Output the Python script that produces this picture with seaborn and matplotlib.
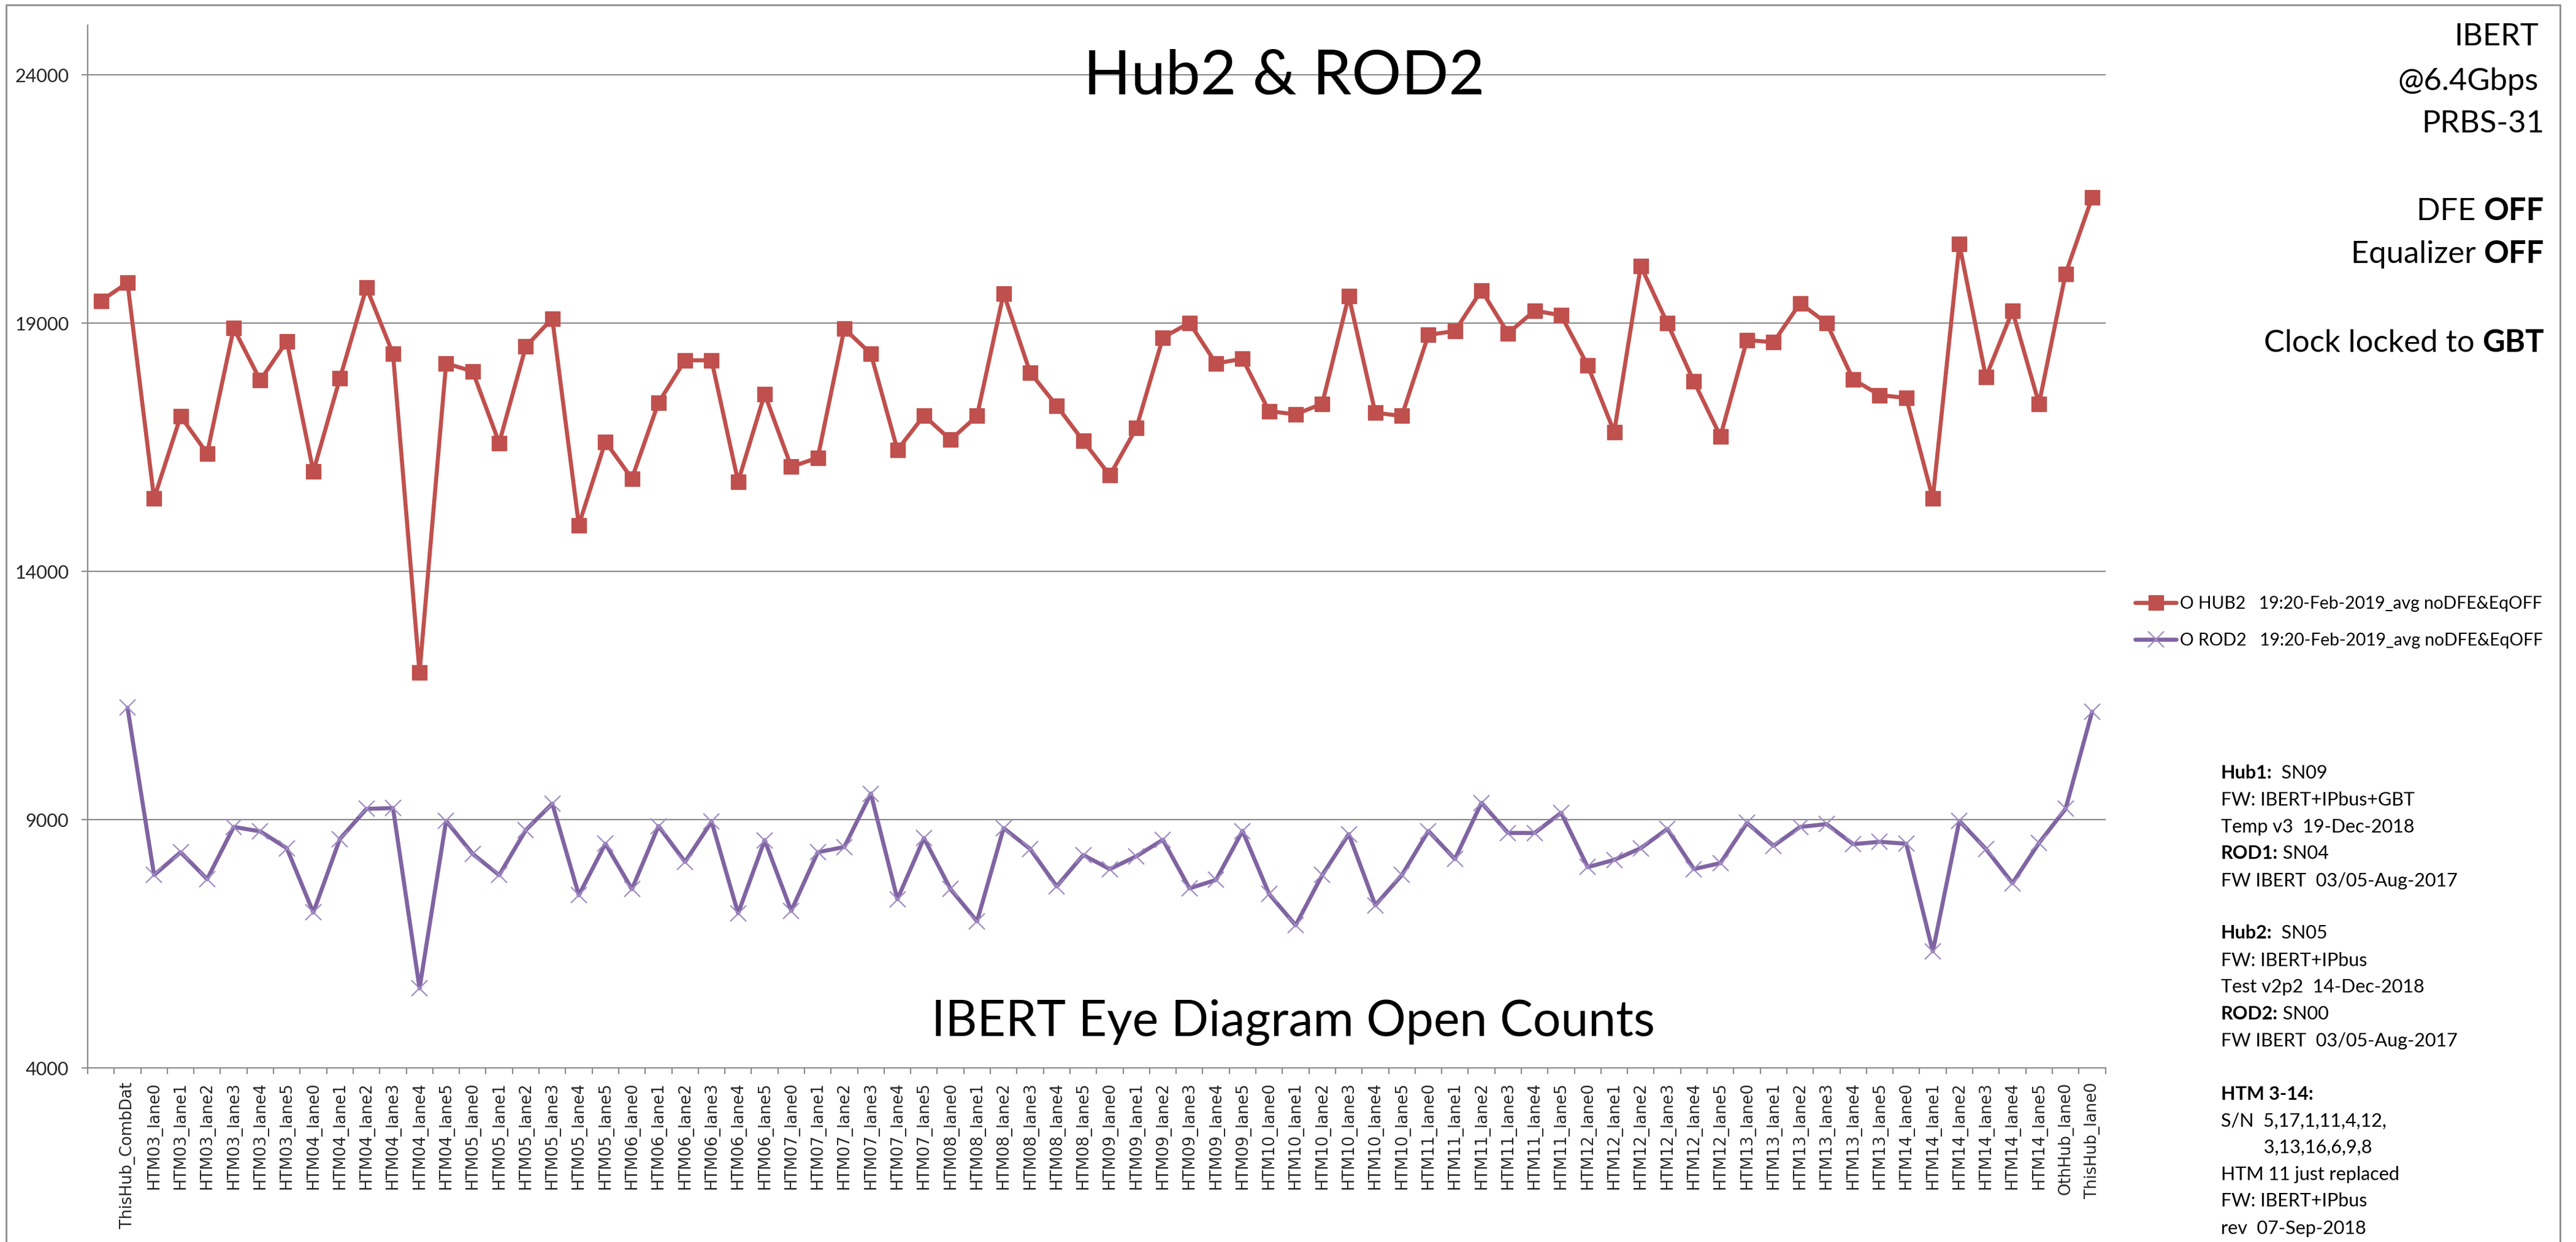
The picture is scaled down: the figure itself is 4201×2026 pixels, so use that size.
import numpy as np
import pandas as pd
import matplotlib
matplotlib.use("Agg")
import matplotlib.pyplot as plt
from matplotlib.patches import Rectangle
import seaborn as sns

# ---------------- data ----------------
modules = ["HTM03", "HTM04", "HTM05", "HTM06", "HTM07", "HTM08",
           "HTM09", "HTM10", "HTM11", "HTM12", "HTM13", "HTM14"]
lanes = ["lane0", "lane1", "lane2", "lane3", "lane4", "lane5"]
categories = ([""] + ["ThisHub_CombDat"]
              + [f"{m}_{l}" for m in modules for l in lanes]
              + ["OthHub_lane0", "ThisHub_lane0"])

hub2 = [19453, 19815, 15470, 17127, 16378, 18900, 17851, 18639, 16014, 17890,
        19720, 18387, 11964, 18191, 18033, 16590, 18529, 19097, 14935, 16614,
        15872, 17402, 18254, 18254, 15810, 17575, 16109, 16291, 18892, 18387,
        16448, 17141, 16653, 17134, 19601, 18009, 17339, 16630, 15936, 16889,
        18711, 19010, 18191, 18285, 17229, 17166, 17379, 19547, 17197, 17134,
        18766, 18845, 19664, 18798, 19255, 19160, 18151, 16811, 20154, 19003,
        17829, 16725, 18664, 18617, 19405, 19003, 17868, 17553, 17497, 15472,
        20595, 17915, 19248, 17379, 19997, 21533]

rod2 = [np.nan,
        11257, 7884, 8345, 7803, 8854, 8765, 8426, 7131, 8612, 9218,
        9235, 5603, 8976, 8312, 7884, 8790, 9324, 7479, 8515, 7601,
        8871, 8151, 8960, 7115, 8587, 7164, 8345, 8450, 9526, 7398,
        8628, 7601, 6953, 8830, 8410, 7657, 8288, 8005, 8264, 8596,
        7617, 7787, 8773, 7504, 6873, 7884, 8709, 7277, 7884, 8773,
        8207, 9340, 8733, 8733, 9138, 8045, 8191, 8426, 8814, 8005,
        8126, 8935, 8474, 8854, 8911, 8507, 8555, 8515, 6347, 8976,
        8410, 7722, 8531, 9218, 11176]

hub2_label = "O HUB2   19:20-Feb-2019_avg noDFE&EqOFF"
rod2_label = "O ROD2   19:20-Feb-2019_avg noDFE&EqOFF"
y_ticks = [4000, 9000, 14000, 19000, 24000]

# ---------------- style ----------------
sns.set_theme(style="white")
plt.rcParams["font.family"] = ["Lato", "DejaVu Sans"]
plt.rcParams["text.color"] = "black"

W, H = 4201, 2026
fig = plt.figure(figsize=(W / 100, H / 100), dpi=100)
fig.patch.set_facecolor("white")

left, right = 143 / W, 3433.5 / W
bottom, top = 1 - 1742 / H, 1 - 41.5 / H
ax = fig.add_axes([left, bottom, right - left, top - bottom])
ax.set_facecolor("white")

GRID = "#898989"
RED = "#C0504D"
PURPLE = "#8064A2"

pos = np.arange(len(categories))
df = pd.DataFrame({"pos": pos, "hub2": hub2, "rod2": rod2})

ax.set_ylim(4000, 25000)
ax.set_xlim(-0.5, len(categories) - 0.5)
for yv in y_ticks[1:]:
    ax.axhline(yv, color=GRID, lw=1.5, zorder=0)

sns.lineplot(data=df, x="pos", y="hub2", ax=ax, color=RED, lw=4.8,
             marker="s", markersize=17, markeredgecolor=RED, markerfacecolor=RED,
             markeredgewidth=1, label=hub2_label, errorbar=None, zorder=3)
sns.lineplot(data=df.dropna(), x="pos", y="rod2", ax=ax, color=PURPLE, lw=4.8,
             marker="x", markersize=19, markeredgecolor="#9F8CC2",
             markeredgewidth=1.6, label=rod2_label, errorbar=None, zorder=3)

# axes styling
for s in ["top", "right"]:
    ax.spines[s].set_visible(False)
for s in ["left", "bottom"]:
    ax.spines[s].set_color(GRID)
    ax.spines[s].set_linewidth(1.5)

ax.set_yticks(y_ticks)
ax.set_yticklabels([str(v) for v in y_ticks], fontsize=22, family="Lato")
ax.tick_params(axis="y", direction="out", length=7, width=1.5, color=GRID,
               pad=15, left=True)

ax.set_xticks(pos)
ax.set_xticklabels(categories, rotation=90, fontsize=18.5, family="DejaVu Sans",
                   ha="center", va="top")
ax.tick_params(axis="x", which="major", length=0, pad=17, bottom=True)
ax.set_xticks(np.arange(-0.5, len(categories), 1.0), minor=True)
ax.tick_params(axis="x", which="minor", direction="out", length=7, width=1.5,
               color=GRID, bottom=True)
ax.set_xlabel("")
ax.set_ylabel("")

# legend
handles, labels = ax.get_legend_handles_labels()
ax.legend(handles, labels, loc="upper left",
          bbox_to_anchor=(3481.7 / W, 1 - 972 / H), bbox_transform=fig.transFigure,
          frameon=False, handlelength=2.4, handletextpad=0.2,
          labelspacing=1.2, borderaxespad=0, borderpad=0,
          prop={"family": "Lato", "size": 20.3})

# titles
fig.text(2094.5 / W, 1 - 153 / H, "Hub2 & ROD2", fontsize=73, ha="center",
         va="baseline", family="Lato")
fig.text(2109 / W, 1 - 1690 / H, "IBERT Eye Diagram Open Counts", fontsize=58,
         ha="center", va="baseline", family="Lato")


def line_segments(x_px, y_px, segments, size, align="left"):
    if align == "left":
        segs = segments
        ha, anchor = "left", (1, 0)
    else:
        segs = list(reversed(segments))
        ha, anchor = "right", (0, 0)
    prev = fig.text(x_px / W, 1 - y_px / H, segs[0][0], fontsize=size,
                    ha=ha, va="baseline", family="Lato",
                    fontweight="bold" if segs[0][1] else "normal")
    for txt, bold in segs[1:]:
        prev = fig.add_artist(matplotlib.text.Annotation(
            txt, xy=anchor, xycoords=prev, ha=ha, va="bottom",
            fontsize=size, family="Lato",
            fontweight="bold" if bold else "normal"))


# right side annotation (right aligned)
RS = 36.5
line_segments(4140, 73.7, [("IBERT", False)], RS, align="right")
line_segments(4140, 147, [("@6.4Gbps", False)], RS, align="right")
line_segments(4149, 216, [("PRBS-31", False)], RS, align="right")
line_segments(4149, 359, [("DFE ", False), ("OFF", True)], RS, align="right")
line_segments(4149, 429, [("Equalizer ", False), ("OFF", True)], RS, align="right")
line_segments(4149, 574, [("Clock locked to ", False), ("GBT", True)], RS, align="right")

# bottom-right info block
BX = 3621.6
BS = 22
info = [
    (1270, [("Hub1:", True), ("  SN09", False)]),
    (1313.8, [("FW: IBERT+IPbus+GBT", False)]),
    (1358, [("Temp v3  19-Dec-2018", False)]),
    (1401, [("ROD1:", True), (" SN04", False)]),
    (1445.5, [("FW IBERT  03/05-Aug-2017", False)]),
    (1531, [("Hub2:", True), ("  SN05", False)]),
    (1575.5, [("FW: IBERT+IPbus", False)]),
    (1618.6, [("Test v2p2  14-Dec-2018", False)]),
    (1663, [("ROD2:", True), (" SN00", False)]),
    (1706.6, [("FW IBERT  03/05-Aug-2017", False)]),
    (1794, [("HTM 3-14:", True)]),
    (1838, [("S/N  5,17,1,11,4,12,", False)]),
    (1881, [("         3,13,16,6,9,8", False)]),
    (1925, [("HTM 11 just replaced", False)]),
    (1968, [("FW: IBERT+IPbus", False)]),
    (2012.6, [("rev  07-Sep-2018", False)]),
]
for y_px, segs in info:
    line_segments(BX, y_px, segs, BS, align="left")

# outer chart border
fig.add_artist(Rectangle((10 / W, -0.02), (4175 - 10) / W, 1.02 - 8 / H,
                         transform=fig.transFigure, fill=False,
                         edgecolor="#8C8C8C", lw=2))

fig.savefig("out.png", dpi=100, facecolor="white")
